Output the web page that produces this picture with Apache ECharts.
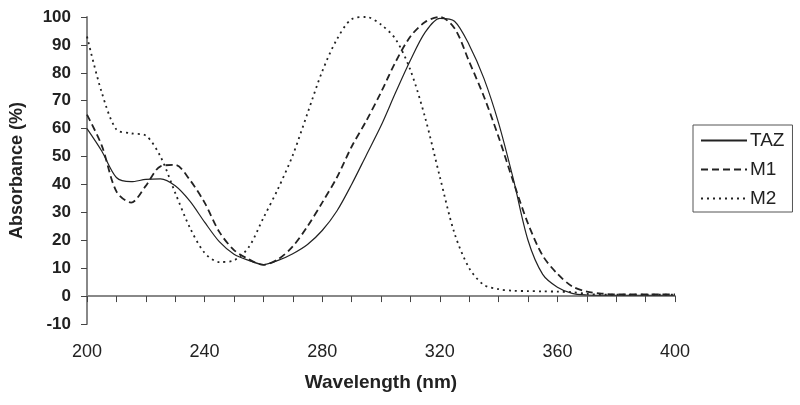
<!DOCTYPE html>
<html>
<head>
<meta charset="utf-8">
<script src="https://cdn.jsdelivr.net/npm/echarts@6/dist/echarts.min.js"></script>
<style>
html,body{margin:0;padding:0;background:#fff;}
#chart{width:800px;height:405px;}
</style>
</head>
<body>
<div id="chart"></div>
<script>
var wavelength = [200,205,210,215,220,225,230,235,240,245,250,255,260,265,270,275,280,285,290,295,300,305,310,315,320,325,330,335,340,345,350,355,360,365,370,375,380,385,390,395,400];
var taz = [60,52,42.5,41,41.8,42,39.5,34,26.5,19.5,15,12.8,11.3,12.8,15.2,18.5,23.5,30.5,40,50.5,61,73,84.5,94.5,99.5,98.5,90,78,62,42,20,7.8,3.2,1,0.4,0.3,0.3,0.3,0.3,0.3,0.3];
var m1 = [65,54,37.5,33.5,39.5,46.5,47,41.6,33.5,23,16.5,13.2,11.2,13.2,17.8,25,33.5,42.5,53.5,62.8,73,84,93,98.2,100,96,84,71.5,57,41,26,14.5,8,3.5,1.6,0.9,0.6,0.6,0.6,0.6,0.6];
var m2 = [93,73,59.7,58.3,57.5,50,37,24.5,15.5,12.2,12.8,17.5,28,38.5,50.5,65.5,80.5,92,99.2,100,97.3,92,81,64,42.8,22.5,10,4,2.5,1.9,1.8,1.7,1.6,1.4,0.8,0.5,0.5,0.5,0.5,0.5,0.5];
var seriesNames = ['TAZ','M1','M2'];
var xLabelTicks = [200,240,280,320,360,400];

function pairs(vals){ return wavelength.map(function(w,i){ return [w, vals[i]]; }); }

var chart = echarts.init(document.getElementById('chart'), null, {renderer:'canvas'});
var font = 'Arial, "Liberation Sans", sans-serif';
chart.setOption({
  animation: false,
  backgroundColor: '#ffffff',
  grid: {left: 86, right: 125, top: 17, bottom: 81, containLabel: false},
  legend: {
    orient: 'vertical',
    left: 693, top: 125,
    width: 100,
    padding: [6, 8, 4, 7],
    itemGap: 10,
    itemWidth: 46, itemHeight: 14,
    borderColor: '#555', borderWidth: 1,
    itemStyle: {color: 'rgba(0,0,0,0)', borderColor: 'rgba(0,0,0,0)', borderWidth: 0, opacity: 0},
    textStyle: {fontFamily: font, fontSize: 19, color: '#222', padding: [0,0,0,-2]},
    data: seriesNames
  },
  xAxis: {
    type: 'value', min: 200, max: 400, interval: 10,
    name: 'Wavelength (nm)', nameLocation: 'middle', nameGap: 49,
    nameTextStyle: {fontFamily: font, fontSize: 19, fontWeight: 'bold', color: '#222'},
    axisLine: {show: true, lineStyle: {color: '#888', width: 2}},
    axisTick: {show: true, length: 6, lineStyle: {color: '#444', width: 1}},
    splitLine: {show: false},
    axisLabel: {
      margin: 19, fontFamily: font, fontSize: 18, color: '#222',
      formatter: function(v){ return xLabelTicks.indexOf(v) >= 0 ? String(v) : ''; }
    }
  },
  yAxis: {
    type: 'value', min: -10, max: 100, interval: 10,
    name: 'Absorbance (%)', nameLocation: 'middle', nameGap: 61, nameRotate: 90,
    nameTextStyle: {fontFamily: font, fontSize: 18, fontWeight: 'bold', color: '#222'},
    axisLine: {show: true, lineStyle: {color: '#888', width: 2}},
    axisTick: {show: true, length: 6, lineStyle: {color: '#444', width: 1}},
    splitLine: {show: false},
    axisLabel: {margin: 16, fontFamily: font, fontSize: 17, fontWeight: 'bold', color: '#222'}
  },
  series: [
    {name: 'TAZ', type: 'line', data: pairs(taz), smooth: 0.3, showSymbol: false, symbol: 'none',
     lineStyle: {color: '#222', width: 1.2, type: 'solid'}, itemStyle: {color: '#222'}},
    {name: 'M1', type: 'line', data: pairs(m1), smooth: 0.3, showSymbol: false, symbol: 'none',
     lineStyle: {color: '#222', width: 1.8, type: [7,4]}, itemStyle: {color: '#222'}},
    {name: 'M2', type: 'line', data: pairs(m2), smooth: 0.3, showSymbol: false, symbol: 'none',
     lineStyle: {color: '#222', width: 1.8, type: [2,4]}, itemStyle: {color: '#222'}}
  ]
});
</script>
</body>
</html>
